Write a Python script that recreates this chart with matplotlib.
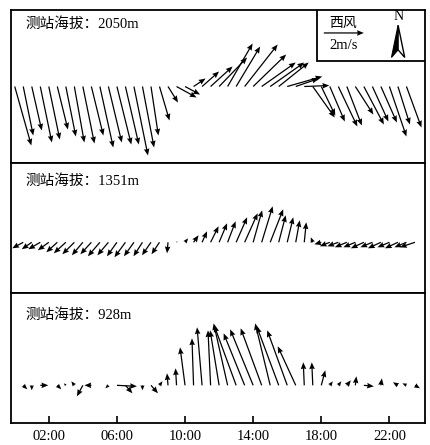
import numpy as np
import matplotlib.pyplot as plt
from matplotlib.patches import Rectangle, Polygon

plt.rcParams['font.family'] = ['Liberation Serif', 'Noto Sans CJK SC']

nan = np.nan
hours = np.arange(0, 24, 0.5)

# wind components (m/s), u east, v north, every half hour
u_2050 = [0.83, 0.50, 0.50, 0.58, 0.55, 0.53, 0.50, 0.50, 0.58, 0.60,
          0.67, 0.67, 0.72, 0.67, 0.70, 0.58, 0.37, 0.50, 0.50, 1.00,
          0.75, 0.60, 0.85, 1.10, 1.40, 1.25, 1.20, 1.65, 1.65, 1.70,
          1.70, 1.50, 1.75, 1.15, 1.25, 1.10, 0.70, 0.75, 0.95, 0.75,
          0.90, 1.00, 0.80, 0.80, 0.85, 0.60, 0.75, nan]
v_2050 = [-2.95, -2.45, -2.20, -2.80, -2.65, -2.15, -2.50, -2.80, -2.85, -2.45,
          -3.05, -2.80, -2.90, -2.90, -3.45, -3.05, -2.45, -1.70, -0.80, -0.55,
          -0.40, 0.40, 0.75, 1.00, 1.45, 2.15, 2.00, 2.10, 1.60, 1.20,
          1.20, 1.20, 0.50, 0.40, 0.05, -1.55, -1.45, -1.75, -2.00, -1.95,
          -1.40, -1.90, -1.75, -1.80, -2.50, -1.90, -2.05, nan]

u_1351 = [nan, -0.55, -0.50, -0.60, -0.55, -0.55, -0.60, -0.60, -0.55, -0.55,
          -0.60, -0.55, -0.50, -0.55, -0.50, -0.45, -0.45, -0.40, -0.05, 0.05,
          0.15, 0.25, 0.25, 0.40, 0.40, 0.40, 0.55, 0.65, 0.45, 0.55,
          0.65, 0.35, 0.30, 0.20, 0.10, -0.10, -0.35, -0.50, -0.55, -0.60,
          -0.60, -0.65, -0.60, -0.65, -0.60, -0.65, -0.60, -0.75]
v_1351 = [nan, -0.30, -0.35, -0.35, -0.40, -0.50, -0.55, -0.60, -0.65, -0.60,
          -0.70, -0.65, -0.70, -0.75, -0.70, -0.70, -0.65, -0.60, -0.55, 0.05,
          0.20, 0.35, 0.55, 0.80, 0.95, 1.05, 1.25, 1.45, 1.60, 1.80,
          1.65, 1.35, 1.25, 1.10, 1.00, 0.25, -0.10, -0.20, -0.20, -0.25,
          -0.25, -0.30, -0.25, -0.30, -0.25, -0.30, -0.25, -0.25]

u_928 = [nan, 0.20, 0.00, 0.40, nan, 0.20, -0.10, -0.15, -0.30, -0.35,
         nan, -0.15, 1.00, 0.35, nan, 0.00, 0.35, 0.15, -0.05, -0.05,
         -0.25, -0.08, -0.25, -0.13, -0.45, -0.70, -1.10, -1.05, -1.15, -1.05,
         -0.75, -1.10, -1.00, -0.90, -0.05, -0.05, 0.20, 0.15, 0.15, 0.20,
         0.05, 0.50, nan, 0.05, nan, -0.25, -0.20, 0.25]
v_928 = [nan, -0.20, -0.25, 0.00, nan, -0.20, 0.10, 0.20, -0.55, 0.00,
         nan, -0.15, -0.05, -0.40, nan, -0.25, -0.40, 0.20, 0.60, 0.85,
         1.90, 2.35, 2.90, 2.75, 2.75, 3.10, 3.00, 2.60, 2.80, 2.85,
         3.10, 2.95, 2.75, 1.95, 1.15, 1.15, 0.75, 0.20, 0.20, 0.25,
         0.45, -0.05, nan, 0.35, nan, 0.15, 0.10, -0.15]

stations = ['2050m', '1351m', '928m']
u_all = [u_2050, u_1351, u_928]
v_all = [v_2050, v_1351, v_928]
tick_hours = [2, 6, 10, 14, 18, 22]
tick_labels = ['02:00', '06:00', '10:00', '14:00', '18:00', '22:00']

fig = plt.figure(figsize=(4.31, 4.45), dpi=100)
left, width = 0.0255, 0.9606
boxes = [(0.6337, 0.3438), (0.3416, 0.2921), (0.0494, 0.2921)]
base = [0.50, 0.39, 0.29]
label_y = [0.908, 0.862, 0.831]

axes = []
for i, (b, h) in enumerate(boxes):
    ax = fig.add_axes([left, b, width, h])
    ax.set_xlim(-0.22, 24.09)
    ax.set_ylim(0, 1)
    ax.set_yticks([])
    for s in ax.spines.values():
        s.set_linewidth(1.3)
    q = ax.quiver(hours, np.full(len(hours), base[i]), u_all[i], v_all[i],
                  angles='uv', scale_units='inches', scale=5, pivot='tail',
                  width=0.003, headwidth=4.5, headlength=5.5,
                  headaxislength=5, color='black', zorder=2)
    ax.text(0.034, label_y[i], '测站海拔：' + stations[i], transform=ax.transAxes,
            fontsize=10.5, va='center', ha='left')
    if i < 2:
        ax.set_xticks([])
    else:
        ax.set_xticks(tick_hours)
        ax.set_xticklabels(tick_labels)
        ax.tick_params(axis='x', direction='in', length=5, width=1.2,
                       pad=5, labelsize=10.5)
    axes.append((ax, q))

# legend box in the top panel
ax, q = axes[0]
ax.add_patch(Rectangle((0.739, 0.667), 0.261, 0.333, transform=ax.transAxes,
                       facecolor='white', edgecolor='black', linewidth=1.3,
                       zorder=3))
ax.text(0.802, 0.915, '西风', transform=ax.transAxes, fontsize=10,
        ha='center', va='center', zorder=4,
        family=['Noto Sans CJK SC'])
qk = ax.quiverkey(q, 0.804, 0.85, 2, '2m/s', labelpos='S', coordinates='axes',
                  labelsep=0.06, fontproperties={'size': 10.5})
qk.set_zorder(5)

# north arrow
cx, hw = 0.935, 0.016
top_y, bot_y, notch_y = 0.90, 0.69, 0.74
ax.add_patch(Polygon([(cx, top_y), (cx - hw, bot_y), (cx, notch_y)],
                     closed=True, transform=ax.transAxes, facecolor='black',
                     edgecolor='black', linewidth=0.8, zorder=4))
ax.add_patch(Polygon([(cx, top_y), (cx + hw, bot_y), (cx, notch_y)],
                     closed=True, transform=ax.transAxes, facecolor='white',
                     edgecolor='black', linewidth=1.0, zorder=4))
ax.text(cx, 0.955, 'N', transform=ax.transAxes, fontsize=10, ha='center',
        va='center', zorder=4)

fig.savefig('out.png', dpi=100)
